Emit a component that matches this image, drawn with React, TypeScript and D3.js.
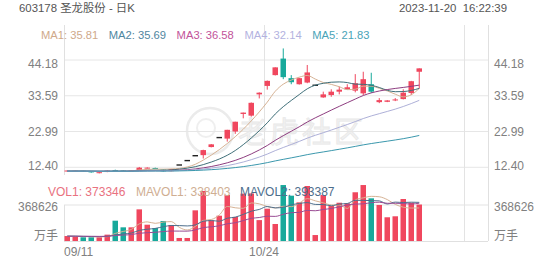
import React from 'react';
import * as d3 from 'd3';

const W = 552;
const H = 265;

const dates = [
  '09/11', '09/12', '09/13', '09/14', '09/15',
  '09/18', '09/19', '09/20', '09/21', '09/22',
  '09/25', '09/26', '09/27', '09/28',
  '10/09', '10/10', '10/11', '10/12', '10/13',
  '10/16', '10/17', '10/18', '10/19', '10/20',
  '10/23', '10/24', '10/25', '10/26', '10/27',
  '10/30', '10/31', '11/01', '11/02', '11/03',
  '11/06', '11/07', '11/08', '11/09', '11/10',
  '11/13', '11/14', '11/15', '11/16', '11/17',
  '11/20',
];

const opens = [
  11.15, 11.35, 11.4, 11.2, 10.85, 11.0, 11.6, 11.5, 11.35, 11.6,
  12.1, 12.2, 11.75, 11.25, 13.08, 14.39, 15.83, 16.0, 18.4, 21.2,
  20.9, 23.0, 28.2, 27.7, 34.0, 36.5, 39.7, 44.6, 38.8, 37.0,
  37.5, 36.7, 33.1, 33.8, 34.8, 35.5, 35.1, 34.3, 37.0, 31.7,
  31.8, 32.2, 32.6, 34.4, 40.7,
];
const highs = [
  11.5, 11.5, 11.45, 11.25, 11.0, 11.55, 11.7, 11.6, 11.6, 12.5,
  12.4, 12.3, 11.85, 11.95, 13.08, 14.39, 15.83, 17.6, 19.3, 21.2,
  23.5, 25.9, 28.6, 31.6, 34.6, 38.1, 42.0, 47.6, 39.7, 38.9,
  42.7, 36.7, 34.8, 35.5, 36.3, 37.0, 40.0, 40.7, 40.4, 32.9,
  32.3, 32.9, 35.5, 38.0, 41.7,
];
const lows = [
  11.1, 11.3, 11.15, 10.8, 10.6, 10.95, 11.4, 11.3, 11.3, 11.5,
  12.0, 11.85, 11.1, 11.2, 13.08, 14.39, 15.83, 15.0, 18.3, 21.2,
  20.0, 22.3, 26.9, 27.4, 32.8, 35.4, 39.6, 38.5, 37.0, 36.9,
  37.3, 36.7, 33.0, 33.3, 34.0, 35.4, 34.6, 33.8, 34.4, 31.4,
  31.7, 32.0, 32.5, 33.8, 35.7,
];
const closes = [
  11.45, 11.45, 11.2, 10.9, 10.95, 11.45, 11.45, 11.35, 11.5, 12.3,
  12.3, 11.9, 11.2, 11.89, 13.08, 14.39, 15.83, 17.5, 19.2, 21.2,
  23.5, 25.9, 28.6, 31.5, 34.5, 38.0, 42.0, 39.1, 37.6, 38.8,
  40.5, 36.7, 34.0, 34.8, 35.4, 36.1, 37.3, 38.5, 34.8, 32.3,
  32.2, 32.5, 34.5, 37.9, 41.7,
];
const volumes = [
  51000, 44000, 38000, 38000, 38000, 65000, 208000, 140000, 140000, 324000,
  167000, 133000, 205000, 164000, 31000, 31000, 314000, 512000, 212000, 259000,
  471000, 246000, 485000, 487000, 214000, 331000, 174000, 573000, 464000, 396000,
  563000, 61000, 471000, 358000, 392000, 386000, 499000, 573000, 437000, 369000,
  243000, 253000, 430000, 392000, 373346,
];

// estimated closes / volumes before 09/11 (only used for the moving averages)
const priorCloses = [
  11.62, 11.55, 11.48, 11.4, 11.52, 11.6, 11.45, 11.38, 11.3, 11.42,
  11.5, 11.35, 11.28, 11.2, 11.32, 11.4, 11.25, 11.18, 11.1, 11.22,
  11.3, 11.15, 11.08, 11.2, 11.35, 11.28, 11.15, 11.05, 11.12, 11.25,
  11.38, 11.3, 11.22, 11.15, 11.28, 11.4, 11.32, 11.2, 11.12, 11.25,
  11.35, 11.28, 11.2, 11.3,
  11.3, 11.25, 11.35, 11.2, 11.15, 11.25, 11.3, 11.2, 11.1, 11.25,
  11.3, 11.2, 11.25, 11.15, 11.3,
];
const priorVolumes = [
  48000, 52000, 45000, 60000, 41000, 55000, 47000, 39000, 58000, 50000,
  44000, 62000, 53000, 46000, 40000, 57000, 49000, 43000, 51000,
];

const priceTicks = [12.40, 22.99, 33.59, 44.18];
const volumeTick = 368626;
const maPeriods = [5, 10, 20, 30, 60];
const maNames = ['MA1', 'MA2', 'MA3', 'MA4', 'MA5'];
const maValues = ['35.81', '35.69', '36.58', '32.14', '21.83'];
const volMaPeriods = [5, 10, 20];
const volLegendNames = ['VOL1', 'MAVOL1', 'MAVOL2'];
const volLegendValues = ['373346', '338403', '393387'];
const totalSlots = 53;
const gridEvery = 25;

const title = '603178 圣龙股份 - 日K';
const stamp = '2023-11-20  16:22:39';

const FONT = "'Liberation Sans', Arial, 'Noto Sans CJK SC', sans-serif";
const RED = '#f0475e';
const GREEN = '#17a99b';
const maLineColors = ['#d6b294', '#3f6f79', '#8e3d80', '#aeb0d8', '#3b98ad'];
const maTextColors = ['#cfa98a', '#4f86a0', '#c2539a', '#b3b3df', '#4aa4b8'];
const volLineColors = ['#d6b294', '#4d6e8c', '#9a4c94'];
const volTextColors = ['#e9727f', '#cfae92', '#4d6e8c'];

function movingAvg(prior: number[], values: number[], n: number): number[] {
  const all = prior.concat(values);
  const p = prior.length;
  return values.map((_, i) => {
    const end = p + i + 1;
    const start = Math.max(0, end - n);
    return d3.mean(all.slice(start, end)) as number;
  });
}

export default function App() {
  const left = 64;
  const right = 488;
  const priceTop = 25;
  const priceBottom = 175;
  const volTop = 205;
  const volBottom = 241;

  const x = d3.scaleBand<number>().domain(d3.range(totalSlots)).range([left, right]).paddingInner(0).paddingOuter(0);
  const bw = 5.5;
  const cx = (i: number) => (x(i) as number) + 0.5 + bw / 2;
  const y = d3.scaleLinear().domain([priceTicks[0], priceTicks[priceTicks.length - 1]]).range([167.3, 60]);
  const yv = d3.scaleLinear().domain([0, volumeTick]).range([volBottom, volTop]);

  const idx = d3.range(dates.length);
  const priceMAs = maPeriods.map((n) => movingAvg(priorCloses, closes, n));
  const volMAs = volMaPeriods.map((n) => movingAvg(priorVolumes, volumes, n));

  const priceLine = d3.line<number>().x((_, i) => cx(i)).y((d) => y(d)).curve(d3.curveMonotoneX);
  const volLine = d3.line<number>().x((_, i) => cx(i)).y((d) => yv(d)).curve(d3.curveMonotoneX);

  const gridSlots = d3.range(0, totalSlots, gridEvery);

  return (
    <svg width={W} height={H} style={{ position: 'absolute', left: 0, top: 0, background: '#fff' }} fontFamily={FONT}>
      <rect x={0} y={0} width={W} height={H} fill="#fff" />
      {/* watermark */}
      <g opacity={0.9}>
        <circle cx={210} cy={131} r={23} fill="none" stroke="#e9e9e9" strokeWidth={2.5} />
        <circle cx={206} cy={128} r={9} fill="none" stroke="#eeeeee" strokeWidth={2} />
        <text x={238} y={143} fontSize={29} fill="#f1f1f1" stroke="#e6e6e6" strokeWidth={0.8} letterSpacing={3}>老虎社区</text>
      </g>

      {/* header */}
      <text x={19} y={12} fontSize={11.4} fill="#555">{title}</text>
      <text x={507} y={12} fontSize={11.4} fill="#555" textAnchor="end" xmlSpace="preserve">{stamp}</text>

      {/* horizontal price gridlines */}
      {priceTicks.map((t) => (
        <line key={'pg' + t} x1={left} x2={right} y1={y(t)} y2={y(t)} stroke="#e6e6e6" strokeWidth={1} />
      ))}
      {/* volume gridlines */}
      <line x1={left} x2={right} y1={yv(volumeTick)} y2={yv(volumeTick)} stroke="#e3e3e3" />
      <line x1={left} x2={right} y1={volBottom + 0.5} y2={volBottom + 0.5} stroke="#e0e0e0" />

      {/* vertical lines */}
      <line x1={left + 0.5} x2={left + 0.5} y1={priceTop} y2={priceBottom} stroke="#e0e0e0" />
      <line x1={left + 0.5} x2={left + 0.5} y1={volTop} y2={volBottom} stroke="#e0e0e0" />
      {gridSlots.filter((s) => s > 0).map((s) => (
        <line key={'vg' + s} x1={(x(s) as number) + 0.5} x2={(x(s) as number) + 0.5} y1={priceTop} y2={volBottom} stroke="#e3e3e3" />
      ))}
      <line x1={right + 0.5} x2={right + 0.5} y1={priceTop} y2={volBottom} stroke="#e0e0e0" />

      {/* price axis labels */}
      {priceTicks.map((t, i) => {
        const off = i === priceTicks.length - 1 ? 3.5 : i === 0 ? -2 : 0;
        const yy = y(t) + off + 4.3;
        return (
          <g key={'pl' + t}>
            <text x={58} y={yy} fontSize={12} fill="#808080" textAnchor="end">{t.toFixed(2)}</text>
            <text x={494} y={yy} fontSize={12} fill="#808080">{t.toFixed(2)}</text>
          </g>
        );
      })}
      {/* volume axis labels */}
      <text x={58} y={yv(volumeTick) + 5.5} fontSize={12} fill="#808080" textAnchor="end">{String(volumeTick)}</text>
      <text x={494} y={yv(volumeTick) + 5.5} fontSize={12} fill="#808080">{String(volumeTick)}</text>
      <text x={58} y={240} fontSize={12} fill="#808080" textAnchor="end">万手</text>
      <text x={494} y={240} fontSize={12} fill="#808080">万手</text>

      {/* date labels */}
      {gridSlots.filter((s) => s < dates.length).map((s) => (
        <text key={'dl' + s} x={s === 0 ? left : (x(s) as number)} y={256} fontSize={12} fill="#808080" textAnchor={s === 0 ? 'start' : 'middle'}>{dates[s]}</text>
      ))}

      {/* MA legend */}
      {maNames.map((n, i) => (
        <text key={'ml' + n} x={41 + i * 67.8} y={39} fontSize={11.2} fill={maTextColors[i]}>{n + ': ' + maValues[i]}</text>
      ))}

      {/* candles */}
      {idx.map((i) => {
        const o = opens[i], c = closes[i], h = highs[i], l = lows[i];
        const xc = cx(i);
        const flat = o === c;
        const col = flat ? '#222' : c > o ? RED : GREEN;
        const top = y(Math.max(o, c));
        const bot = y(Math.min(o, c));
        return (
          <g key={'c' + i}>
            {h !== l && <line x1={xc} x2={xc} y1={y(h)} y2={y(l)} stroke={col} strokeWidth={1} />}
            {flat ? (
              <line x1={xc - bw / 2} x2={xc + bw / 2} y1={top} y2={top} stroke={col} strokeWidth={1.4} />
            ) : (
              <rect x={xc - bw / 2} y={top} width={bw} height={Math.max(1, bot - top)} fill={col} />
            )}
          </g>
        );
      })}

      {/* price MA lines */}
      {priceMAs.map((arr, k) => (
        <path key={'ma' + k} d={priceLine(arr) || ''} fill="none" stroke={maLineColors[k]} strokeWidth={1} />
      ))}

      {/* volume bars */}
      {idx.map((i) => {
        const col = closes[i] >= opens[i] ? RED : GREEN;
        const top = yv(volumes[i]);
        return <rect key={'v' + i} x={cx(i) - bw / 2} y={top} width={bw} height={volBottom - top} fill={col} />;
      })}
      {volMAs.map((arr, k) => (
        <path key={'vm' + k} d={volLine(arr) || ''} fill="none" stroke={volLineColors[k]} strokeWidth={1} />
      ))}

      {/* volume legend */}
      {volLegendNames.map((n, i) => (
        <text key={'vl' + n} x={[48, 136, 240][i]} y={195.5} fontSize={12} fill={volTextColors[i]}>{n + ': ' + volLegendValues[i]}</text>
      ))}
    </svg>
  );
}
